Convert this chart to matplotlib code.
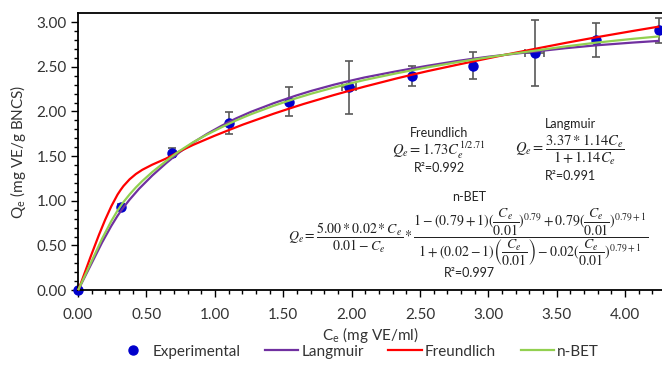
import numpy as np
import matplotlib
matplotlib.use("Agg")
import matplotlib.pyplot as plt
from matplotlib.path import Path
from matplotlib.patches import PathPatch
from matplotlib.lines import Line2D

plt.rcParams['font.family'] = ['Lato', 'DejaVu Sans']
plt.rcParams['mathtext.fontset'] = 'stix'

ce = [0.00, 0.31, 0.69, 1.10, 1.54, 1.98, 2.44, 2.89, 3.34, 3.79, 4.25]
qe = [0.00, 0.93, 1.54, 1.87, 2.11, 2.27, 2.40, 2.51, 2.65, 2.80, 2.91]
qe_err = [0.00, 0.03, 0.05, 0.12, 0.16, 0.30, 0.11, 0.15, 0.37, 0.19, 0.14]
ce_err = [0.00, 0.00, 0.00, 0.00, 0.00, 0.05, 0.00, 0.00, 0.07, 0.00, 0.00]

# model values at the experimental concentrations
langmuir = [0.00, 0.88, 1.48, 1.88, 2.15, 2.34, 2.48, 2.59, 2.67, 2.74, 2.79]
freundlich = [0.00, 1.12, 1.51, 1.79, 2.03, 2.23, 2.41, 2.56, 2.70, 2.83, 2.95]
nbet = [0.00, 0.94, 1.50, 1.86, 2.12, 2.31, 2.46, 2.58, 2.68, 2.77, 2.84]

col_exp = '#0000CC'
col_lang = '#7030A0'
col_freu = '#FF0000'
col_nbet = '#92D050'


def smooth_path(xs, ys):
    # smoothed line like a spreadsheet chart (Catmull-Rom as Bezier)
    pts = np.column_stack([xs, ys])
    n = len(pts)
    verts = [pts[0]]
    codes = [Path.MOVETO]
    for i in range(n - 1):
        p0 = pts[max(i - 1, 0)]
        p1 = pts[i]
        p2 = pts[i + 1]
        p3 = pts[min(i + 2, n - 1)]
        verts += [p1 + (p2 - p0) / 6, p2 - (p3 - p1) / 6, p2]
        codes += [Path.CURVE4] * 3
    return Path(verts, codes)


fig = plt.figure(figsize=(6.62, 3.65), dpi=100)
ax = fig.add_axes([0.118, 0.205, 0.882, 0.759])

ax.errorbar(ce, qe, yerr=qe_err, xerr=ce_err, fmt='o', color=col_exp,
            ms=6.5, ecolor='#595959', elinewidth=1.2, capsize=3, capthick=1.2,
            zorder=2, clip_on=False)

for vals, c in [(langmuir, col_lang), (freundlich, col_freu), (nbet, col_nbet)]:
    ax.add_patch(PathPatch(smooth_path(ce, vals), facecolor='none',
                           edgecolor=c, lw=1.6, zorder=3, clip_on=False))

ax.set_xlim(0, 4.27)
ax.set_ylim(0, 3.1)
ax.set_xticks(np.arange(0, 4.01, 0.5))
ax.set_yticks(np.arange(0, 3.01, 0.5))
ax.set_xticks(np.arange(0, 4.27, 0.1), minor=True)
ax.set_yticks(np.arange(0, 3.05, 0.1), minor=True)
ax.xaxis.set_major_formatter(plt.FormatStrFormatter('%.2f'))
ax.yaxis.set_major_formatter(plt.FormatStrFormatter('%.2f'))
ax.tick_params(which='major', length=5, width=1, labelsize=11, color='black',
               labelcolor='#333333', pad=3)
ax.tick_params(axis='x', which='major', pad=8)
ax.tick_params(which='minor', length=3, width=1)
ax.spines['right'].set_visible(False)
for s in ['left', 'bottom', 'top']:
    ax.spines[s].set_linewidth(1.3)

ax.set_xlabel(r'C$_\mathregular{e}$ (mg VE/ml)', fontsize=11, color='#333333', labelpad=2)
ax.set_ylabel(r'Q$_\mathregular{e}$ (mg VE/g BNCS)', fontsize=11, color='#333333', labelpad=6)

tk = dict(ha='center', va='center', fontsize=9, color='#222222')
mk = dict(ha='center', va='center', fontsize=10.5, color='#222222')
ax.text(2.64, 1.76, 'Freundlich', **tk)
ax.text(2.64, 1.57, r'$Q_e = 1.73C_e^{1/2.71}$', **mk)
ax.text(2.64, 1.37, 'R²=0.992', **tk)
ax.text(3.60, 1.86, 'Langmuir', **tk)
ax.text(3.60, 1.57, r'$Q_e = \dfrac{3.37*1.14C_e}{1+1.14C_e}$', **mk)
ax.text(3.60, 1.28, 'R²=0.991', **tk)
ax.text(2.86, 1.04, 'n-BET', **tk)
ax.text(2.85, 0.59,
        r'$Q_e = \dfrac{5.00*0.02*C_e}{0.01-C_e}*\dfrac{1-(0.79+1)(\dfrac{C_e}{0.01})^{0.79}'
        r'+0.79(\dfrac{C_e}{0.01})^{0.79+1}}{1+(0.02-1)\left(\dfrac{C_e}{0.01}\right)'
        r'-0.02(\dfrac{C_e}{0.01})^{0.79+1}}$', ha='center', va='center',
        fontsize=10, color='#222222')
ax.text(2.86, 0.19, 'R²=0.997', **tk)

handles = [Line2D([], [], ls='none', marker='o', color=col_exp, ms=6.5),
           Line2D([], [], color=col_lang, lw=1.6),
           Line2D([], [], color=col_freu, lw=1.6),
           Line2D([], [], color=col_nbet, lw=1.6)]
fig.legend(handles, ['Experimental', 'Langmuir', 'Freundlich', 'n-BET'],
           loc='lower center', bbox_to_anchor=(0.54, -0.02), ncol=4,
           frameon=False, fontsize=11, handlelength=2.2, handletextpad=0.2,
           columnspacing=1.6, labelcolor='#333333')

fig.savefig('out.png', dpi=100)
